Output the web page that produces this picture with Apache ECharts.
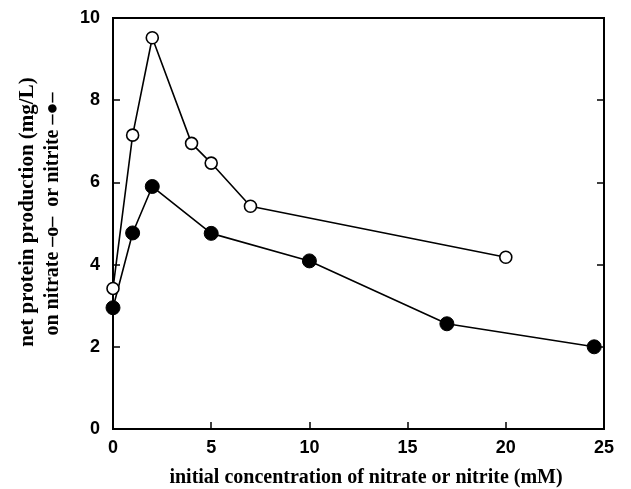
<!DOCTYPE html>
<html><head><meta charset="utf-8">
<script src="https://cdn.jsdelivr.net/npm/echarts@6/dist/echarts.min.js"></script>
<style>html,body{margin:0;padding:0;background:#fff}#c{width:631px;height:489px}</style>
</head><body><div id="c"></div>
<script>
const nitrateX = [0, 1, 2, 4, 5, 7, 20];
const nitrateY = [3.42, 7.15, 9.52, 6.95, 6.47, 5.42, 4.18];
const nitriteX = [0, 1, 2, 5, 10, 17, 24.5];
const nitriteY = [2.95, 4.77, 5.9, 4.76, 4.09, 2.56, 2.0];
const xTicks = [0, 5, 10, 15, 20, 25];
const yTicks = [0, 2, 4, 6, 8, 10];
const xTitle = 'initial concentration of nitrate or nitrite (mM)';
const yTitle1 = 'net protein production (mg/L)';
const yTitle2 = 'on nitrate \u2013o\u2013  or nitrite \u2013\u25CF\u2013';

const chart = echarts.init(document.getElementById('c'));
const pair = (xs, ys) => xs.map((x, i) => [x, ys[i]]);
const labelFont = {fontFamily: 'Liberation Sans', fontWeight: 'bold', fontSize: 18, color: '#000'};
chart.setOption({
  animation: false,
  grid: {left: 113, right: 27, top: 18, bottom: 60, show: true, borderColor: '#000', borderWidth: 2, backgroundColor: 'transparent'},
  xAxis: {type: 'value', min: xTicks[0], max: xTicks[xTicks.length-1], interval: 5,
    axisLine: {lineStyle: {color: '#000', width: 2}},
    axisTick: {inside: true, length: 7, lineStyle: {color: '#000', width: 1.5}},
    axisLabel: Object.assign({margin: 10}, labelFont),
    splitLine: {show: false}},
  yAxis: [{type: 'value', min: yTicks[0], max: yTicks[yTicks.length-1], interval: 2,
    axisLine: {show: true, lineStyle: {color: '#000', width: 2}},
    axisTick: {show: true, inside: true, length: 7, lineStyle: {color: '#000', width: 1.5}},
    axisLabel: Object.assign({margin: 13}, labelFont),
    splitLine: {show: false}},
   {type: 'value', position: 'right', min: yTicks[0], max: yTicks[yTicks.length-1], interval: 2,
    axisLine: {show: true, lineStyle: {color: '#000', width: 2}},
    axisTick: {show: true, inside: true, length: 7, lineStyle: {color: '#000', width: 1.5}},
    axisLabel: {show: false}, splitLine: {show: false}}],
  graphic: [
    {type: 'text', x: 366, y: 478, style: {text: xTitle, font: 'bold 20px "Liberation Serif"', fill: '#000', textAlign: 'center', textVerticalAlign: 'middle'}},
    {type: 'text', x: 28, y: 212, rotation: Math.PI/2, style: {text: yTitle1, font: 'bold 21px "Liberation Serif"', fill: '#000', textAlign: 'center', textVerticalAlign: 'middle'}},
    {type: 'text', x: 53, y: 214, rotation: Math.PI/2, style: {text: yTitle2, font: 'bold 20px "Liberation Serif"', fill: '#000', textAlign: 'center', textVerticalAlign: 'middle'}}
  ],
  series: [
    {type: 'line', data: pair(nitriteX, nitriteY), symbol: 'circle', symbolSize: 14,
     lineStyle: {color: '#000', width: 1.6}, itemStyle: {color: '#000', borderColor: '#000', borderWidth: 1}, z: 3},
    {type: 'line', data: pair(nitrateX, nitrateY), symbol: 'circle', symbolSize: 12,
     lineStyle: {color: '#000', width: 1.6}, itemStyle: {color: '#fff', borderColor: '#000', borderWidth: 1.6}, z: 4}
  ]
});
</script></body></html>
